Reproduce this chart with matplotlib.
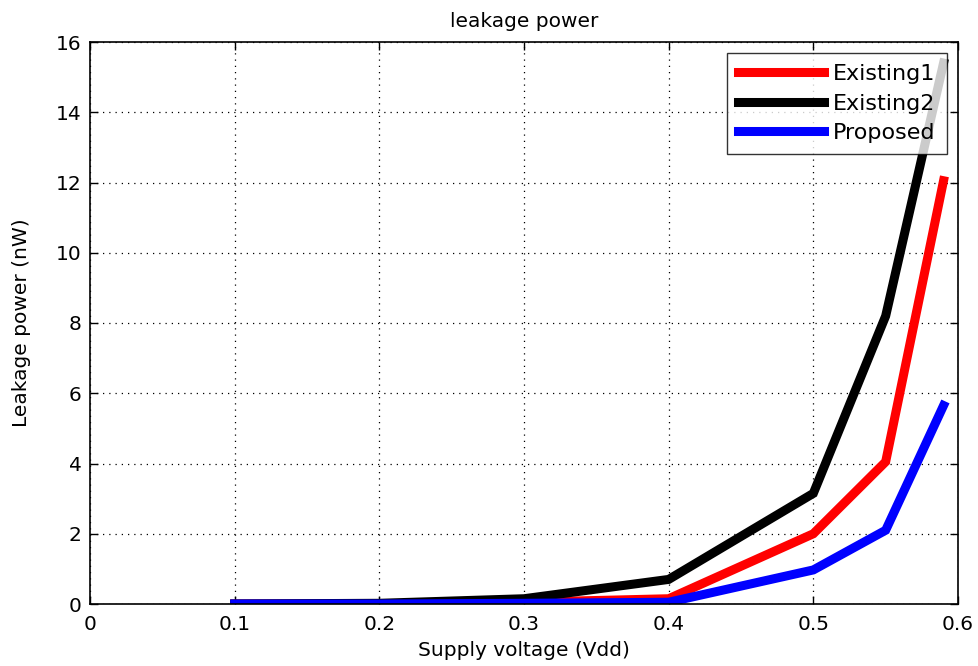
import matplotlib
matplotlib.use("Agg")
import matplotlib.pyplot as plt

plt.rcParams['font.family'] = ['DejaVu Sans']

vdd = [0.1, 0.2, 0.3, 0.4, 0.5, 0.55, 0.59]
existing1 = [0.0, 0.0, 0.05, 0.15, 2.0, 4.05, 12.05]
existing2 = [0.0, 0.02, 0.15, 0.7, 3.15, 8.2, 15.4]
proposed = [0.0, 0.0, 0.02, 0.05, 0.97, 2.1, 5.65]

xticks = [0, 0.1, 0.2, 0.3, 0.4, 0.5, 0.6]
xticklabels = ['0', '0.1', '0.2', '0.3', '0.4', '0.5', '0.6']
yticks = [0, 2, 4, 6, 8, 10, 12, 14, 16]

fig = plt.figure(figsize=(9.79, 6.66), dpi=100)
ax = fig.add_axes([90/979, 1-604/666, (958-90)/979, (604-42)/666])

ax.plot(vdd, existing1, color='#ff0000', lw=6.5, label='Existing1', solid_joinstyle='miter')
ax.plot(vdd, existing2, color='#000000', lw=6.5, label='Existing2', solid_joinstyle='miter')
ax.plot(vdd, proposed, color='#0000ff', lw=6.5, label='Proposed', solid_joinstyle='miter')

ax.set_xlim(0, 0.6)
ax.set_ylim(0, 16)
ax.set_xticks(xticks)
ax.set_xticklabels(xticklabels)
ax.set_yticks(yticks)
ax.grid(True, linestyle=(0, (1, 4)), color='black', linewidth=0.9)
ax.tick_params(direction='in', top=True, right=True, labelsize=14.5, length=6, width=1, pad=8)
ax.tick_params(axis='y', pad=6)
for s in ax.spines.values():
    s.set_linewidth(1.2)

ax.set_xlabel('Supply voltage (Vdd)', fontsize=14.5, labelpad=5)
ax.set_ylabel('Leakage power (nW)', fontsize=14.5, labelpad=18)
ax.set_title('leakage power', fontsize=14.5, pad=11)

leg = ax.legend(loc='upper right', fontsize=16, frameon=True, fancybox=False,
                edgecolor='black', handlelength=3.9, borderpad=0.5, labelspacing=0.42,
                handletextpad=0.4, borderaxespad=0.5)
leg.get_frame().set_linewidth(1.0)

fig.savefig('out.png', dpi=100, facecolor='white')
